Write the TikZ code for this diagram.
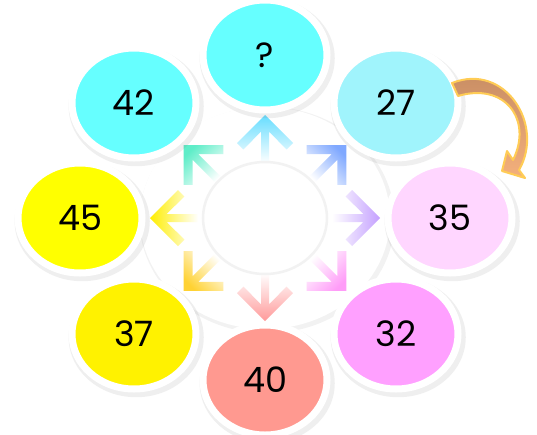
\documentclass[tikz,border=0pt]{standalone}
\usepackage{fontspec}
\setmainfont{Poppins}
\usetikzlibrary{shapes.geometric,shadows}
\definecolor{cyanball}{HTML}{66FFFF}
\definecolor{paleball}{HTML}{A0F4FC}
\definecolor{yellowball}{HTML}{FFFF00}
\definecolor{goldball}{HTML}{FFF200}
\definecolor{pinkball}{HTML}{FFD6FF}
\definecolor{violetball}{HTML}{FFA0FF}
\definecolor{salmonball}{HTML}{FF9990}
\definecolor{arrup}{HTML}{66DDFF}
\definecolor{arrur}{HTML}{7FA8FF}
\definecolor{arrr}{HTML}{C4A0FF}
\definecolor{arrdr}{HTML}{FF9CF8}
\definecolor{arrd}{HTML}{FF9A9A}
\definecolor{arrdl}{HTML}{FFD233}
\definecolor{arrl}{HTML}{FFEE00}
\definecolor{arrul}{HTML}{5EEDC8}
\definecolor{bendbrown}{HTML}{C48A62}
\definecolor{bendorange}{HTML}{F4B07C}
\definecolor{bendrim}{HTML}{FFCC55}

\begin{document}
\begin{tikzpicture}[x=1pt,y=1pt,
	ball/.style={ellipse, draw=white, line width=7pt, minimum width=124pt, minimum height=110pt, inner sep=0pt, font=\fontsize{35}{35}\selectfont, drop shadow={shadow xshift=2pt, shadow yshift=-3pt, shadow scale=1.09, opacity=0.13}},
	hubdisk/.style={ellipse, fill=white, inner sep=0pt, minimum width=250pt, minimum height=222pt, drop shadow={shadow xshift=2pt, shadow yshift=-2pt, shadow scale=1.02, opacity=0.10}},
	coredisk/.style={ellipse, fill=white, draw=black!5, line width=2.5pt, inner sep=0pt, minimum width=124pt, minimum height=112pt}
	]
	\useasboundingbox (-265,-216) rectangle (272,218);
	\node[hubdisk] (hub) at (0,0) {};
	\foreach \a/\c in {90/arrup, 45/arrur, 0/arrr, -45/arrdr, -90/arrd, -135/arrdl, 180/arrl, 135/arrul}{
		\pgfmathsetmacro\sa{\a-90}
		\shade[top color=\c, middle color=\c!85!white, bottom color=white, shading angle=\sa, shift={({115*cos(\a)},{103*sin(\a)})}, rotate=\a]
			(0,0) -- (-28,28) -- (-34.4,21.6) -- (-16.7,4) -- (-48,4) -- (-48,-4) -- (-16.7,-4) -- (-34.4,-21.6) -- (-28,-28) -- cycle;
	}
	\node[coredisk] (core) at (0,0) {};
	\node[ball, fill=cyanball] (q) at (0,163) {?};
	\node[ball, fill=cyanball] (n42) at (-131,115) {42};
	\node[ball, fill=paleball] (n27) at (131,115) {27};
	\node[ball, fill=yellowball] (n45) at (-185,0) {45};
	\node[ball, fill=pinkball] (n35) at (185,0) {35};
	\node[ball, fill=goldball] (n37) at (-131,-116) {37};
	\node[ball, fill=violetball] (n32) at (131,-116) {32};
	\node[ball, fill=salmonball] (n40) at (0,-162) {40};
	\begin{scope}[shift={(n27.center)}]
		\shade[top color=bendbrown, bottom color=bendorange, draw=bendrim, line width=2pt, line join=round]
			(56,20) .. controls (109,41) and (149,-22) .. (123,-67) -- (129,-75) -- (106,-68) -- (111,-48) -- (117,-57)
			.. controls (137,-17) and (109,21) .. (62,7) -- cycle;
	\end{scope}
\end{tikzpicture}
\end{document}
